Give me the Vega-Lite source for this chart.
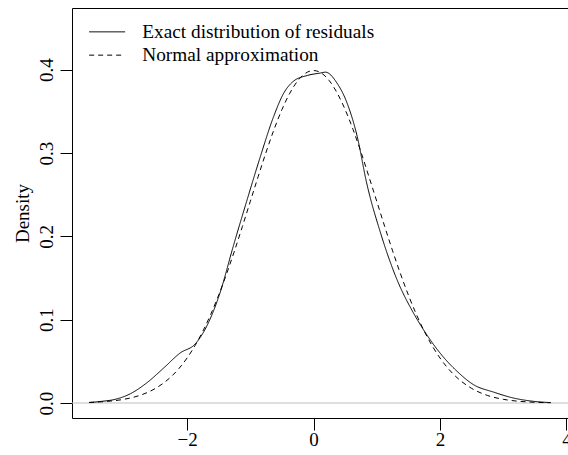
{
  "$schema": "https://vega.github.io/schema/vega-lite/v6.json",
  "autosize": {"type": "none"},
  "padding": {"left": 72, "top": 8, "right": 0, "bottom": 37},
  "width": 497,
  "height": 410,
  "background": "white",
  "config": {
    "view": {"stroke": "black", "strokeWidth": 1},
    "font": "Liberation Serif"
  },
  "datasets": {
    "curves": [
      {"x": -3.55, "y": 0.0005, "series": "Exact distribution of residuals"},
      {"x": -3.35, "y": 0.002, "series": "Exact distribution of residuals"},
      {"x": -3.16, "y": 0.004, "series": "Exact distribution of residuals"},
      {"x": -2.9, "y": 0.011, "series": "Exact distribution of residuals"},
      {"x": -2.64, "y": 0.024, "series": "Exact distribution of residuals"},
      {"x": -2.37, "y": 0.042, "series": "Exact distribution of residuals"},
      {"x": -2.11, "y": 0.06, "series": "Exact distribution of residuals"},
      {"x": -1.87, "y": 0.071, "series": "Exact distribution of residuals"},
      {"x": -1.69, "y": 0.092, "series": "Exact distribution of residuals"},
      {"x": -1.48, "y": 0.132, "series": "Exact distribution of residuals"},
      {"x": -1.27, "y": 0.188, "series": "Exact distribution of residuals"},
      {"x": -1.05, "y": 0.244, "series": "Exact distribution of residuals"},
      {"x": -0.84, "y": 0.296, "series": "Exact distribution of residuals"},
      {"x": -0.63, "y": 0.344, "series": "Exact distribution of residuals"},
      {"x": -0.47, "y": 0.372, "series": "Exact distribution of residuals"},
      {"x": -0.32, "y": 0.386, "series": "Exact distribution of residuals"},
      {"x": -0.1, "y": 0.393, "series": "Exact distribution of residuals"},
      {"x": 0.11, "y": 0.396, "series": "Exact distribution of residuals"},
      {"x": 0.19, "y": 0.397, "series": "Exact distribution of residuals"},
      {"x": 0.37, "y": 0.384, "series": "Exact distribution of residuals"},
      {"x": 0.53, "y": 0.36, "series": "Exact distribution of residuals"},
      {"x": 0.69, "y": 0.32, "series": "Exact distribution of residuals"},
      {"x": 0.84, "y": 0.264, "series": "Exact distribution of residuals"},
      {"x": 1.06, "y": 0.204, "series": "Exact distribution of residuals"},
      {"x": 1.32, "y": 0.148, "series": "Exact distribution of residuals"},
      {"x": 1.58, "y": 0.108, "series": "Exact distribution of residuals"},
      {"x": 1.79, "y": 0.082, "series": "Exact distribution of residuals"},
      {"x": 2.0, "y": 0.06, "series": "Exact distribution of residuals"},
      {"x": 2.27, "y": 0.038, "series": "Exact distribution of residuals"},
      {"x": 2.53, "y": 0.022, "series": "Exact distribution of residuals"},
      {"x": 2.85, "y": 0.013, "series": "Exact distribution of residuals"},
      {"x": 3.16, "y": 0.006, "series": "Exact distribution of residuals"},
      {"x": 3.48, "y": 0.002, "series": "Exact distribution of residuals"},
      {"x": 3.75, "y": 0.0005, "series": "Exact distribution of residuals"},
      {"x": -3.55, "y": 0.00073, "series": "Normal approximation"},
      {"x": -3.25, "y": 0.00203, "series": "Normal approximation"},
      {"x": -3.0, "y": 0.00443, "series": "Normal approximation"},
      {"x": -2.75, "y": 0.00909, "series": "Normal approximation"},
      {"x": -2.5, "y": 0.01753, "series": "Normal approximation"},
      {"x": -2.25, "y": 0.03174, "series": "Normal approximation"},
      {"x": -2.125, "y": 0.04172, "series": "Normal approximation"},
      {"x": -2.0, "y": 0.05399, "series": "Normal approximation"},
      {"x": -1.875, "y": 0.06879, "series": "Normal approximation"},
      {"x": -1.75, "y": 0.08628, "series": "Normal approximation"},
      {"x": -1.625, "y": 0.10656, "series": "Normal approximation"},
      {"x": -1.5, "y": 0.12952, "series": "Normal approximation"},
      {"x": -1.375, "y": 0.15503, "series": "Normal approximation"},
      {"x": -1.25, "y": 0.18265, "series": "Normal approximation"},
      {"x": -1.125, "y": 0.21188, "series": "Normal approximation"},
      {"x": -1.0, "y": 0.24197, "series": "Normal approximation"},
      {"x": -0.875, "y": 0.27184, "series": "Normal approximation"},
      {"x": -0.75, "y": 0.30114, "series": "Normal approximation"},
      {"x": -0.625, "y": 0.32816, "series": "Normal approximation"},
      {"x": -0.5, "y": 0.35207, "series": "Normal approximation"},
      {"x": -0.375, "y": 0.3718, "series": "Normal approximation"},
      {"x": -0.25, "y": 0.38667, "series": "Normal approximation"},
      {"x": -0.125, "y": 0.39584, "series": "Normal approximation"},
      {"x": 0.0, "y": 0.39894, "series": "Normal approximation"},
      {"x": 0.125, "y": 0.39584, "series": "Normal approximation"},
      {"x": 0.25, "y": 0.38667, "series": "Normal approximation"},
      {"x": 0.375, "y": 0.3718, "series": "Normal approximation"},
      {"x": 0.5, "y": 0.35207, "series": "Normal approximation"},
      {"x": 0.625, "y": 0.32816, "series": "Normal approximation"},
      {"x": 0.75, "y": 0.30114, "series": "Normal approximation"},
      {"x": 0.875, "y": 0.27184, "series": "Normal approximation"},
      {"x": 1.0, "y": 0.24197, "series": "Normal approximation"},
      {"x": 1.125, "y": 0.21188, "series": "Normal approximation"},
      {"x": 1.25, "y": 0.18265, "series": "Normal approximation"},
      {"x": 1.375, "y": 0.15503, "series": "Normal approximation"},
      {"x": 1.5, "y": 0.12952, "series": "Normal approximation"},
      {"x": 1.625, "y": 0.10656, "series": "Normal approximation"},
      {"x": 1.75, "y": 0.08628, "series": "Normal approximation"},
      {"x": 1.875, "y": 0.06879, "series": "Normal approximation"},
      {"x": 2.0, "y": 0.05399, "series": "Normal approximation"},
      {"x": 2.125, "y": 0.04172, "series": "Normal approximation"},
      {"x": 2.25, "y": 0.03174, "series": "Normal approximation"},
      {"x": 2.5, "y": 0.01753, "series": "Normal approximation"},
      {"x": 2.75, "y": 0.00909, "series": "Normal approximation"},
      {"x": 3.0, "y": 0.00443, "series": "Normal approximation"},
      {"x": 3.25, "y": 0.00203, "series": "Normal approximation"},
      {"x": 3.5, "y": 0.00087, "series": "Normal approximation"},
      {"x": 3.75, "y": 0.00035, "series": "Normal approximation"}
    ],
    "zero": [{"y": 0}]
  },
  "layer": [
    {
      "data": {"name": "zero"},
      "mark": {"type": "rule", "color": "#bebebe", "strokeWidth": 1},
      "encoding": {
        "y": {"field": "y", "type": "quantitative", "scale": {"domain": [-0.018, 0.474], "nice": false, "zero": false}}
      }
    },
    {
      "data": {"name": "curves"},
      "mark": {"type": "line", "color": "black", "strokeWidth": 1, "interpolate": "monotone"},
      "encoding": {
        "x": {
          "field": "x", "type": "quantitative",
          "scale": {"domain": [-3.82, 4.04], "nice": false, "zero": false},
          "axis": {
            "title": null, "values": [-2, 0, 2, 4], "domain": false, "grid": false,
            "tickColor": "black", "tickSize": 12, "tickWidth": 1,
            "labelFont": "Liberation Serif", "labelFontSize": 19, "labelColor": "black",
            "labelPadding": 0, "labelOverlap": false, "labelFlush": false, "labelBound": false
          }
        },
        "y": {
          "field": "y", "type": "quantitative",
          "scale": {"domain": [-0.018, 0.474], "nice": false, "zero": false},
          "axis": {
            "title": "Density", "values": [0, 0.1, 0.2, 0.3, 0.4], "format": ".1f",
            "domain": false, "grid": false,
            "tickColor": "black", "tickSize": 12, "tickWidth": 1,
            "labelFont": "Liberation Serif", "labelFontSize": 19, "labelColor": "black",
            "labelAngle": -90, "labelAlign": "center", "labelBaseline": "bottom", "labelPadding": 4,
            "labelOverlap": false, "labelFlush": false, "labelBound": false,
            "titleFont": "Liberation Serif", "titleFontSize": 19, "titleFontWeight": "normal",
            "titleColor": "black", "titlePadding": 5
          }
        },
        "strokeDash": {
          "field": "series", "type": "nominal",
          "scale": {"domain": ["Exact distribution of residuals", "Normal approximation"], "range": [[1, 0], [5, 4]]},
          "legend": {
            "title": null, "orient": "none", "legendX": 25.5, "legendY": 14.2, "padding": 0,
            "symbolType": "M-2,0H2", "symbolSize": 324, "symbolStrokeWidth": 1,
            "symbolStrokeColor": "black", "symbolFillColor": "transparent",
            "labelFont": "Liberation Serif", "labelFontSize": 19.3, "labelColor": "black",
            "labelOffset": 25.5, "rowPadding": 3.3, "labelLimit": 400
          }
        }
      }
    }
  ]
}
